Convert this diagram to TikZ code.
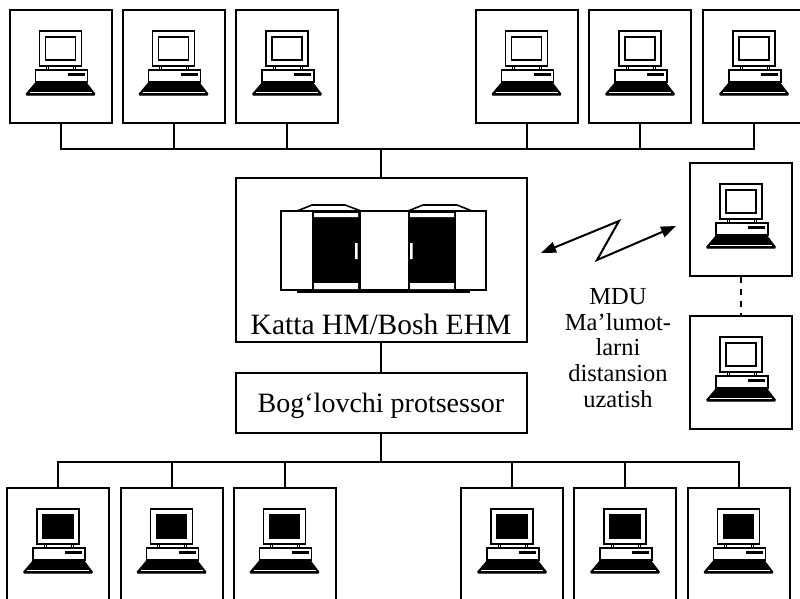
\documentclass[tikz,border=0pt]{standalone}
\usepackage{fontspec}
\setmainfont{Liberation Serif}
\usetikzlibrary{positioning,arrows.meta}

\tikzset{
  pcbox/.style = {draw, line width = 2pt, minimum width = 102pt, minimum height = 113pt, inner sep = 0pt},
  bigbox/.style = {draw, line width = 2pt, minimum width = 291pt, inner sep = 0pt},
  wire/.style = {line width = 2pt},
  lbl/.style = {font = \fontsize{28}{32}\selectfont},
  pics/pc/.style = {code = {
    \filldraw[fill = white, line width = 1.4pt] (-21,22) rectangle (21,57);
    \filldraw[fill = #1, line width = 1.4pt] (-15,28) rectangle (15,51);
    \filldraw[fill = white, line width = 1pt] (-14,57) rectangle (-12,61) (13,57) rectangle (15,61);
    \filldraw[fill = white, line width = 1.4pt] (-25,61) rectangle (27,73);
    \fill (7,64) rectangle (24,67);
    \filldraw[line width = 1.4pt, rounded corners = 1.5pt] (-24,73) -- (25,73) -- (35,86) -- (-35,86) -- cycle;
    \draw[white, line width = 0.8pt] (-31,83.5) -- (31,83.5);
  }}
}

\begin{document}
\begin{tikzpicture}[x = 1pt, y = -1pt]
\path[fill = white, use as bounding box] (0,0) rectangle (800,598);

\foreach \i/\x in {1/60.5, 2/173.5, 3/287, 4/526.5, 5/640, 6/754}
  \node[pcbox] (t\i) at (\x,66.5) {};
\foreach \i/\x in {1/58, 2/171.5, 3/284.5, 4/512, 5/625, 6/738.5}
  \node[pcbox] (b\i) at (\x,544.5) {};
\node[pcbox] (r1) at (741,219.5) {};
\node[pcbox] (r2) at (741,372.5) {};

\foreach \i in {1,...,6} {
  \path (t\i.north) pic {pc = white};
  \path (b\i.north) pic {pc = black};
}
\path (r1.north) pic {pc = white};
\path (r2.north) pic {pc = white};

\node[bigbox, minimum height = 164pt] (main) at (381,260) {};
\node[lbl, font = \fontsize{29.5}{32}\selectfont, anchor = base] (mainlbl) at ([yshift = 9pt]main.south) {Katta HM/Bosh EHM};
\node[bigbox, lbl, minimum height = 60pt, text depth = 0pt] (bog) at (381,403) {Bog‘lovchi protsessor};

% mainframe cabinets
\begin{scope}[shift = {(main.center)}]
\draw[line width = 3pt] (-84,31.5) -- (89,31.5);
\filldraw[fill = white, line width = 1.6pt] (-84,-49) -- (-69,-55) -- (-36,-55) -- (-20,-49);
\filldraw[fill = white, line width = 1.6pt] (27,-49) -- (42,-55) -- (76,-55) -- (91,-49);
\filldraw[fill = white, line width = 1.6pt] (-100,-49) rectangle (105,30);
\fill (-69,-49) rectangle (-20,30);
\fill (27,-49) rectangle (75,30);
\fill[white] (-67,-47) rectangle (-23,-43) (-67,23) rectangle (-23,29);
\fill[white] (29,-47) rectangle (73,-43) (29,23) rectangle (73,29);
\fill[white] (-26,-17) rectangle (-23.5,-1) (29,-17) rectangle (31.5,-1);
\end{scope}

\draw[wire] (main.north) -- ++(0,-28) coordinate (topbus);
\draw[wire] (t1.south) |- (t6.south |- topbus) -- (t6.south);
\foreach \i in {2,...,5}
  \draw[wire] (t\i.south) -- (t\i.south |- topbus);

\draw[wire] (main.south) -- (bog.north);
\draw[wire] (bog.south) -- ++(0,28) coordinate (botbus);
\draw[wire] (b1.north) |- (b6.north |- botbus) -- (b6.north);
\foreach \i in {2,...,5}
  \draw[wire] (b\i.north) -- (b\i.north |- botbus);

\draw[wire, dashed, dash pattern = on 6pt off 6pt] (r1.south) -- (r2.north);

\coordinate (zl) at (541,253);
\coordinate (zr) at (676,226);
\draw[wire, {Triangle[length = 15pt, width = 11pt]}-{Triangle[length = 15pt, width = 11pt]}]
  (zl) -- (619,221) -- (597,260) -- (zr);
\node[align = center, font = \fontsize{24.5}{25.75}\selectfont] (mdu) at (618,348)
  {MDU\\Ma’lumot-\\larni\\distansion\\uzatish};
\end{tikzpicture}
\end{document}
